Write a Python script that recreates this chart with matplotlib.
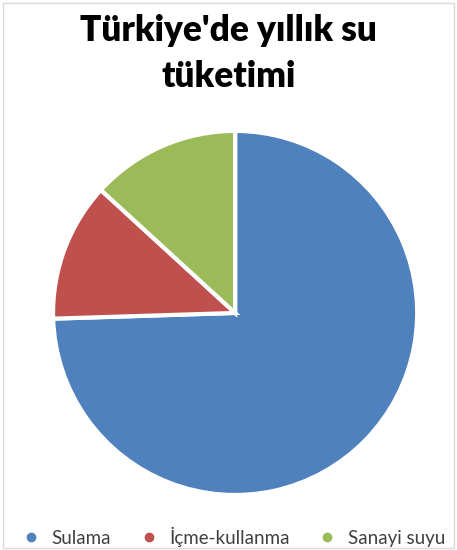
import matplotlib.pyplot as plt
from matplotlib.lines import Line2D
from matplotlib.patches import Rectangle

plt.rcParams['font.family'] = ['Lato', 'DejaVu Sans']

labels = ['Sulama', 'İçme-kullanma', 'Sanayi suyu']
values = [74.5, 12.3, 13.2]
colors = ['#4F81BD', '#C0504D', '#9BBB59']

fig = plt.figure(figsize=(4.57, 5.5), dpi=100)
ax = fig.add_axes([0.116, 0.1, 0.797, 0.662])
ax.pie(values, colors=colors, startangle=90, counterclock=False,
       wedgeprops=dict(edgecolor='white', linewidth=3))
ax.set_xlim(-1.0, 1.0)
ax.set_ylim(-1.0, 1.0)
ax.set_aspect('equal')

fig.text(0.5, 0.975, "Türkiye'de yıllık su\ntüketimi", ha='center', va='top',
         fontsize=25.3, fontweight='heavy', color='black', linespacing=1.5)

handles = [Line2D([], [], marker='o', linestyle='', markersize=6,
                  markerfacecolor=c, markeredgecolor=c) for c in colors]
fig.legend(handles, labels, loc='lower center', bbox_to_anchor=(0.513, -0.025),
           ncol=3, frameon=False, fontsize=13.5, labelcolor='#404040',
           handlelength=0.8, handletextpad=0.7, columnspacing=1.6)

fig.patches.append(Rectangle((0.006, 0.004), 0.988, 0.99, transform=fig.transFigure,
                             fill=False, edgecolor='#D9D9D9', linewidth=1))

fig.savefig('out.png', dpi=100)
